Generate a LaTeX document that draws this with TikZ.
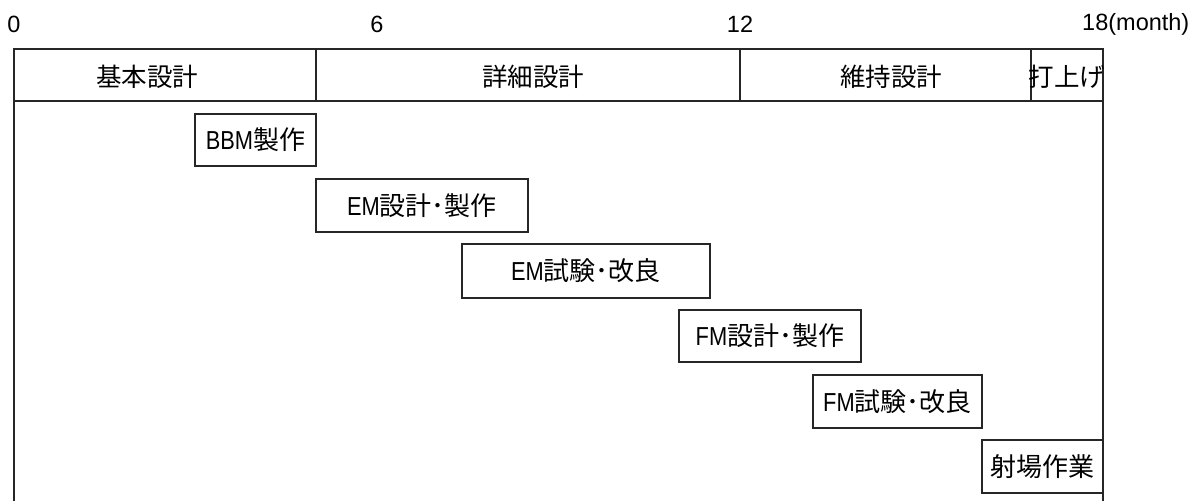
\documentclass[tikz,border=0pt]{standalone}
\usepackage{fontspec}
\setmainfont{Liberation Sans}
\newfontfamily\cjk{Noto Sans CJK JP}
\newfontfamily\latn[FakeStretch=0.84]{Liberation Sans}
\begin{document}
\begin{tikzpicture}[x=1pt,y=-1pt,
  frameline/.style={line width=1.3pt, draw=black!85},
  hdrlabel/.style={font=\cjk\fontsize{25.5}{30}\selectfont, inner sep=0pt, anchor=center},
  ticklabel/.style={font=\fontsize{23.5}{28}\selectfont, inner sep=0pt},
  taskbox/.style={draw=black!85, line width=1.3pt, font=\cjk\fontsize{26}{30}\selectfont, inner sep=0pt, anchor=center}
]
\useasboundingbox (0,0) rectangle (1198,501);
% frame
\coordinate (tl) at (14,49);
\coordinate (tr) at (1103,49);
\coordinate (bl) at (14,501);
\coordinate (br) at (1103,501);
\coordinate (ml) at (14,101);
\coordinate (mr) at (1103,101);
\draw[frameline] (bl) -- (tl) -- (tr) -- (br);
\draw[frameline] (ml) -- (mr);
\coordinate (d1t) at (316,49); \coordinate (d1b) at (316,101);
\coordinate (d2t) at (740,49); \coordinate (d2b) at (740,101);
\coordinate (d3t) at (1031,49); \coordinate (d3b) at (1031,101);
\draw[frameline] (d1t) -- (d1b);
\draw[frameline] (d2t) -- (d2b);
\draw[frameline] (d3t) -- (d3b);
% tick labels
\node[ticklabel] (t0) at (14,24) {0};
\node[ticklabel] (t6) at (377,24) {6};
\node[ticklabel] (t12) at (740,24) {12};
\node[ticklabel, anchor=west] (t18) at (1082,24) {18(month)};
% header labels
\node[hdrlabel] (h1) at (147,77) {基本設計};
\node[hdrlabel] (h2) at (533,77) {詳細設計};
\node[hdrlabel] (h3) at (891,77) {維持設計};
\node[hdrlabel] (h4) at (1067,77) {打上げ};
% task boxes
\node[taskbox, minimum width=121pt, minimum height=52pt] (bbm) at (255.5,140) {{\latn BBM}製作};
\node[taskbox, minimum width=212pt, minimum height=53pt] (emd) at (422,205.5) {{\latn EM}設計･製作};
\node[taskbox, minimum width=248pt, minimum height=54pt] (emt) at (586,271) {{\latn EM}試験･改良};
\node[taskbox, minimum width=182pt, minimum height=52pt] (fmd) at (770,336) {{\latn FM}設計･製作};
\node[taskbox, minimum width=169pt, minimum height=53pt] (fmt) at (897.5,401.5) {{\latn FM}試験･改良};
\node[taskbox, minimum width=121pt, minimum height=53pt] (site) at (1042.5,466.5) {射場作業};
\end{tikzpicture}
\end{document}
